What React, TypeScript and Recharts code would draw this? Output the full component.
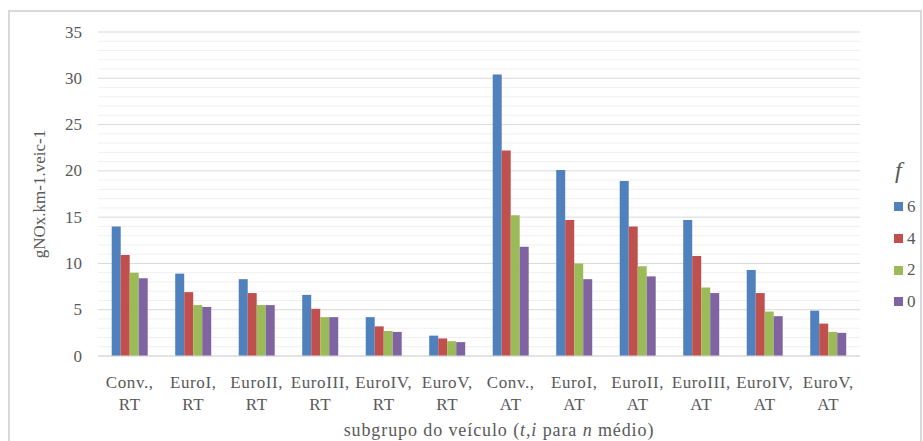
import { Bar, BarChart, CartesianGrid, XAxis, YAxis } from "recharts";

const categories = [
  "Conv., RT",
  "EuroI, RT",
  "EuroII, RT",
  "EuroIII, RT",
  "EuroIV, RT",
  "EuroV, RT",
  "Conv., AT",
  "EuroI, AT",
  "EuroII, AT",
  "EuroIII, AT",
  "EuroIV, AT",
  "EuroV, AT",
];

const f6 = [14.0, 8.9, 8.3, 6.6, 4.2, 2.2, 30.4, 20.1, 18.9, 14.7, 9.3, 4.9];
const f4 = [10.9, 6.9, 6.8, 5.1, 3.2, 1.9, 22.2, 14.7, 14.0, 10.8, 6.8, 3.5];
const f2 = [9.0, 5.5, 5.5, 4.2, 2.7, 1.6, 15.2, 10.0, 9.7, 7.4, 4.8, 2.6];
const f0 = [8.4, 5.3, 5.5, 4.2, 2.6, 1.5, 11.8, 8.3, 8.6, 6.8, 4.3, 2.5];

// every unit gets a gridline, only multiples of 5 get a label
const gridTicks = [
  0, 1, 2, 3, 4, 5, 6, 7, 8, 9, 10, 11, 12, 13, 14, 15, 16, 17, 18, 19, 20, 21, 22, 23, 24, 25, 26, 27, 28, 29,
  30, 31, 32, 33, 34, 35,
];

const series = [
  { key: "f6", name: "6", color: "#4F81BD" },
  { key: "f4", name: "4", color: "#C0504D" },
  { key: "f2", name: "2", color: "#9BBB59" },
  { key: "f0", name: "0", color: "#8064A2" },
];

const data = categories.map((c, i) => ({ name: c, f6: f6[i], f4: f4[i], f2: f2[i], f0: f0[i] }));

const FONT = "'Liberation Serif', 'Times New Roman', serif";
const INK = "#595959";

function CategoryTick({ x, y, payload }: { x?: number; y?: number; payload?: { value: string } }) {
  const [top, bottom] = (payload?.value ?? "").split(" ");
  return (
    <text x={x} y={y} textAnchor="middle" fill={INK} fontFamily={FONT} fontSize={17} letterSpacing={0.6}>
      <tspan x={x} dy={24}>{top}</tspan>
      <tspan x={x} dy={22}>{bottom}</tspan>
    </text>
  );
}

function ValueTick({ x, y, payload }: { x?: number; y?: number; payload?: { value: number } }) {
  const v = payload?.value ?? 0;
  if (v % 5 !== 0) return null;
  return (
    <text x={x} y={y} textAnchor="end" dominantBaseline="central" fill={INK} fontFamily={FONT} fontSize={17}>
      {v}
    </text>
  );
}

function GridLine(props: { x1?: number; x2?: number; y1?: number; y2?: number; index?: number }) {
  const major = (props.index ?? 0) % 5 === 0;
  return (
    <line
      x1={props.x1}
      x2={props.x2}
      y1={props.y1}
      y2={props.y2}
      stroke={major ? "#d9d9d9" : "#f0f0f0"}
      strokeWidth={1}
    />
  );
}

function AxisTitle({ viewBox }: { viewBox?: { x: number; y: number; width: number } }) {
  if (!viewBox) return null;
  const cx = viewBox.x + viewBox.width / 2 + 20;
  return (
    <text x={cx} y={viewBox.y + 80} textAnchor="middle" fill={INK} fontFamily={FONT} fontSize={18} letterSpacing={0.9}>
      subgrupo do veículo (<tspan fontStyle="italic">t,i</tspan>{"  "}para <tspan fontStyle="italic">n</tspan> médio)
    </text>
  );
}

function ValueTitle({ viewBox }: { viewBox?: { x: number; y: number; height: number } }) {
  if (!viewBox) return null;
  const cy = viewBox.y + viewBox.height / 2;
  return (
    <text x={39} y={cy} transform={`rotate(-90 39 ${cy})`} textAnchor="middle" dominantBaseline="central" fill={INK} fontFamily={FONT} fontSize={17}>
      gNOx.km-1.veic-1
    </text>
  );
}

export default function App() {
  return (
    <div style={{ position: "absolute", left: 0, top: 0, width: 923, height: 441, background: "#fff", overflow: "hidden" }}>
      <div
        style={{
          position: "absolute",
          left: 8,
          top: 10,
          width: 914,
          height: 460,
          boxSizing: "border-box",
          border: "2px solid #d9d9d9",
        }}
      />
      <div style={{ position: "absolute", left: 0, top: 0 }}>
        <BarChart
          width={923}
          height={441}
          data={data}
          margin={{ top: 32, right: 63, bottom: 0, left: 0 }}
          barCategoryGap="21.6%"
          barGap={0}
        >
          <CartesianGrid vertical={false} horizontal={(p: any) => <GridLine key={p.key} {...p} />} />
          <XAxis
            dataKey="name"
            height={85}
            interval={0}
            tickLine={false}
            axisLine={{ stroke: "#d9d9d9" }}
            tick={<CategoryTick />}
            label={<AxisTitle />}
          />
          <YAxis
            width={98}
            domain={[0, 35]}
            ticks={gridTicks}
            interval={0}
            tickLine={false}
            axisLine={false}
            tickMargin={10}
            tick={<ValueTick />}
            label={<ValueTitle />}
          />
          {series.map((s) => (
            <Bar key={s.key} dataKey={s.key} name={s.name} fill={s.color} isAnimationActive={false} />
          ))}
        </BarChart>
      </div>
      <div style={{ position: "absolute", left: 888, top: 156, fontFamily: FONT, color: INK }}>
        <div style={{ fontStyle: "italic", fontSize: 24, lineHeight: "28px", marginLeft: 7, marginBottom: 7 }}>f</div>
        {series.map((s) => (
          <div key={s.key} style={{ display: "flex", alignItems: "center", height: 31.7, fontSize: 17 }}>
            <span style={{ display: "inline-block", width: 9, height: 9, background: s.color, marginLeft: 6, marginRight: 4 }} />
            {s.name}
          </div>
        ))}
      </div>
    </div>
  );
}
